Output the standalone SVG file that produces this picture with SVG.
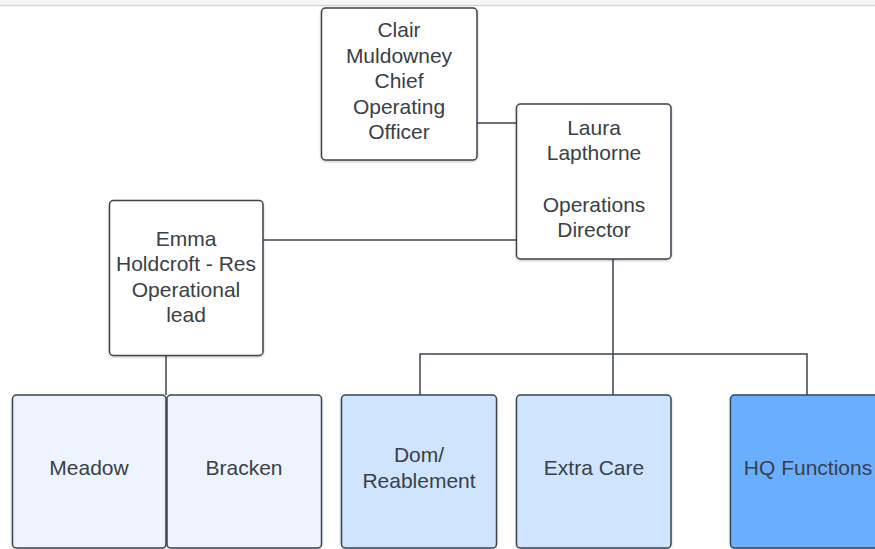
<svg xmlns="http://www.w3.org/2000/svg" width="875" height="549" viewBox="0 0 875 549">
  <defs>
    <filter id="sh" x="-10%" y="-10%" width="120%" height="120%">
      <feDropShadow dx="0" dy="1" stdDeviation="0.8" flood-color="#000" flood-opacity="0.25"/>
    </filter>
  </defs>
  <style>
    .box { stroke: #3d444d; stroke-width: 1.5; filter: url(#sh); }
    .w { fill: #ffffff; }
    .l1 { fill: #edf4ff; }
    .l2 { fill: #cfe4ff; }
    .l3 { fill: #6aaeff; }
    .t { font-family: "Liberation Sans", Arial, sans-serif; font-size: 21px; fill: #3a4048; text-anchor: middle; }
    .c { stroke: #3d444d; stroke-width: 1.5; fill: none; }
  </style>
  <rect x="0" y="0" width="875" height="549" fill="#ffffff"/>
  <rect x="0" y="0" width="875" height="5" fill="#f7f7f7"/>
  <line x1="0" y1="5.5" x2="875" y2="5.5" stroke="#d6d6d6" stroke-width="1.5"/>

  <g id="connectors">
    <line class="c" x1="477" y1="123" x2="517" y2="123"/>
    <line class="c" x1="263" y1="240" x2="517" y2="240"/>
    <line class="c" x1="613" y1="259" x2="613" y2="395"/>
    <polyline class="c" points="420,395 420,354 807,354 807,395"/>
    <line class="c" x1="166" y1="356" x2="166" y2="395"/>
  </g>

  <g id="clair">
    <rect class="box w" x="321.5" y="8" width="155.5" height="152" rx="4"/>
    <text class="t" x="399" y="37">Clair</text>
    <text class="t" x="399" y="62.5">Muldowney</text>
    <text class="t" x="399" y="88">Chief</text>
    <text class="t" x="399" y="113.5">Operating</text>
    <text class="t" x="399" y="139">Officer</text>
  </g>

  <g id="laura">
    <rect class="box w" x="516.5" y="104" width="154.5" height="155" rx="4"/>
    <text class="t" x="594" y="134.5">Laura</text>
    <text class="t" x="594" y="160">Lapthorne</text>
    <text class="t" x="594" y="211.5">Operations</text>
    <text class="t" x="594" y="237">Director</text>
  </g>

  <g id="emma">
    <rect class="box w" x="109.5" y="200.5" width="153.5" height="155" rx="4"/>
    <text class="t" x="186" y="245.5">Emma</text>
    <text class="t" x="186" y="271">Holdcroft - Res</text>
    <text class="t" x="186" y="296.5">Operational</text>
    <text class="t" x="186" y="322">lead</text>
  </g>

  <g id="meadow">
    <rect class="box l1" x="12.5" y="395" width="153.5" height="153" rx="4"/>
    <text class="t" x="89" y="475">Meadow</text>
  </g>

  <g id="bracken">
    <rect class="box l1" x="167" y="395" width="154.5" height="153" rx="4"/>
    <text class="t" x="244" y="475">Bracken</text>
  </g>

  <g id="dom">
    <rect class="box l2" x="341.5" y="395" width="155" height="153" rx="4"/>
    <text class="t" x="419" y="462">Dom/</text>
    <text class="t" x="419" y="488">Reablement</text>
  </g>

  <g id="extracare">
    <rect class="box l2" x="516.5" y="395" width="154.5" height="153" rx="4"/>
    <text class="t" x="594" y="475">Extra Care</text>
  </g>

  <g id="hq">
    <rect class="box l3" x="730.5" y="395" width="155" height="153" rx="4"/>
    <text class="t" x="808" y="475">HQ Functions</text>
  </g>
</svg>
